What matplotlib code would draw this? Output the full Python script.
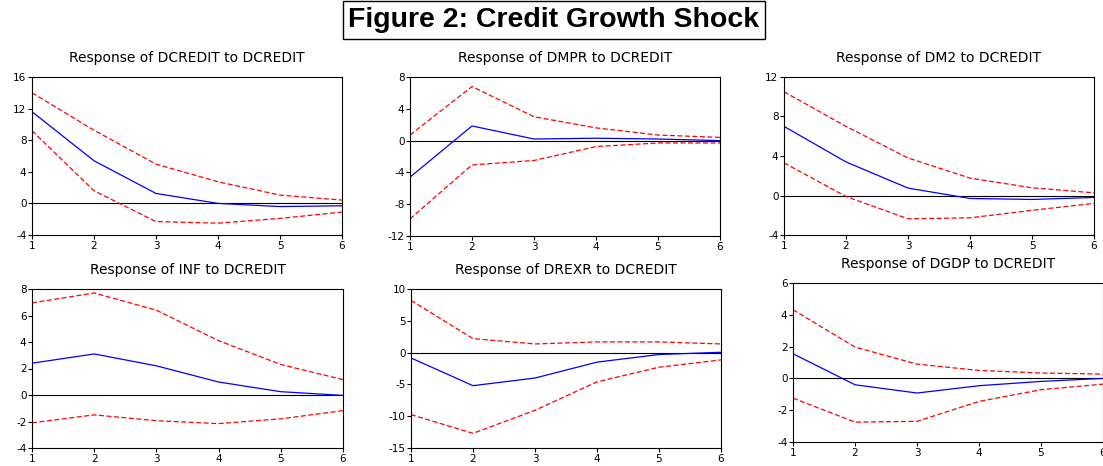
import numpy as np
import matplotlib.pyplot as plt

plt.rcParams['font.family'] = ['DejaVu Sans']
plt.rcParams['axes.unicode_minus'] = False

periods = [1, 2, 3, 4, 5, 6]

titles = ["Response of DCREDIT to DCREDIT", "Response of DMPR to DCREDIT",
          "Response of DM2 to DCREDIT", "Response of INF to DCREDIT",
          "Response of DREXR to DCREDIT", "Response of DGDP to DCREDIT"]

# impulse responses (blue) and +/- 2 s.e. bands (red)
dcredit = [11.6, 5.4, 1.26, 0.0, -0.4, -0.3]
dcredit_hi = [14.0, 9.26, 4.97, 2.74, 1.05, 0.42]
dcredit_lo = [9.2, 1.6, -2.3, -2.5, -1.9, -1.1]

dmpr = [-4.6, 1.84, 0.2, 0.3, 0.2, 0.0]
dmpr_hi = [0.7, 6.8, 3.0, 1.6, 0.7, 0.4]
dmpr_lo = [-9.85, -3.06, -2.5, -0.75, -0.3, -0.3]

dm2 = [7.0, 3.4, 0.75, -0.3, -0.4, -0.2]
dm2_hi = [10.5, 7.0, 3.8, 1.76, 0.78, 0.27]
dm2_lo = [3.3, -0.1, -2.36, -2.26, -1.5, -0.8]

inf = [2.4, 3.1, 2.2, 0.98, 0.25, -0.03]
inf_hi = [6.95, 7.7, 6.4, 4.1, 2.3, 1.16]
inf_lo = [-2.1, -1.5, -1.94, -2.16, -1.8, -1.18]

drexr = [-0.84, -5.2, -4.0, -1.5, -0.3, 0.05]
drexr_hi = [8.2, 2.2, 1.36, 1.68, 1.68, 1.36]
drexr_lo = [-9.75, -12.7, -9.07, -4.6, -2.3, -1.15]

dgdp = [1.55, -0.4, -0.92, -0.46, -0.19, 0.0]
dgdp_hi = [4.32, 1.97, 0.9, 0.5, 0.34, 0.27]
dgdp_lo = [-1.24, -2.75, -2.7, -1.45, -0.71, -0.36]

series = [(dcredit, dcredit_hi, dcredit_lo), (dmpr, dmpr_hi, dmpr_lo),
          (dm2, dm2_hi, dm2_lo), (inf, inf_hi, inf_lo),
          (drexr, drexr_hi, drexr_lo), (dgdp, dgdp_hi, dgdp_lo)]

yticks = [[-4, 0, 4, 8, 12, 16], [-12, -8, -4, 0, 4, 8], [-4, 0, 4, 8, 12],
          [-4, -2, 0, 2, 4, 6, 8], [-15, -10, -5, 0, 5, 10], [-4, -2, 0, 2, 4, 6]]

W, H = 1103, 466
# axes boxes in pixels: left, top, right, bottom
boxes = [(32, 77, 342, 235), (410, 77, 720, 236), (784, 77, 1094, 235),
         (32, 289, 343, 448), (411, 289, 721, 448), (793, 283, 1103, 442)]
pads = [11, 11, 11, 10.5, 10.5, 10.5]

fig = plt.figure(figsize=(W / 100, H / 100), dpi=100)

for k in range(6):
    l, t, r, b = boxes[k]
    ax = fig.add_axes([l / W, 1 - b / H, (r - l) / W, (b - t) / H])
    mid, hi, lo = series[k]
    ax.axhline(0, color='black', lw=0.8)
    ax.plot(periods, hi, color='red', lw=0.9, dashes=(4, 2))
    ax.plot(periods, lo, color='red', lw=0.9, dashes=(4, 2))
    ax.plot(periods, mid, color='blue', lw=0.9)
    ax.set_xlim(1, 6)
    ax.set_ylim(yticks[k][0], yticks[k][-1])
    ax.set_yticks(yticks[k])
    ax.set_xticks(periods)
    ax.tick_params(direction='out', length=3, width=0.8, labelsize=7.5, pad=1)
    ax.set_title(titles[k], fontsize=10, pad=pads[k])
    for s in ax.spines.values():
        s.set_linewidth(0.8)

fig.text(554 / W, 1 - 20 / H, "Figure 2: Credit Growth Shock", fontsize=20.5,
         fontweight='bold', ha='center', va='center', family='Liberation Sans',
         bbox=dict(boxstyle='square,pad=0.2', fc='white', ec='black', lw=1))

fig.savefig('out.png', dpi=100)
